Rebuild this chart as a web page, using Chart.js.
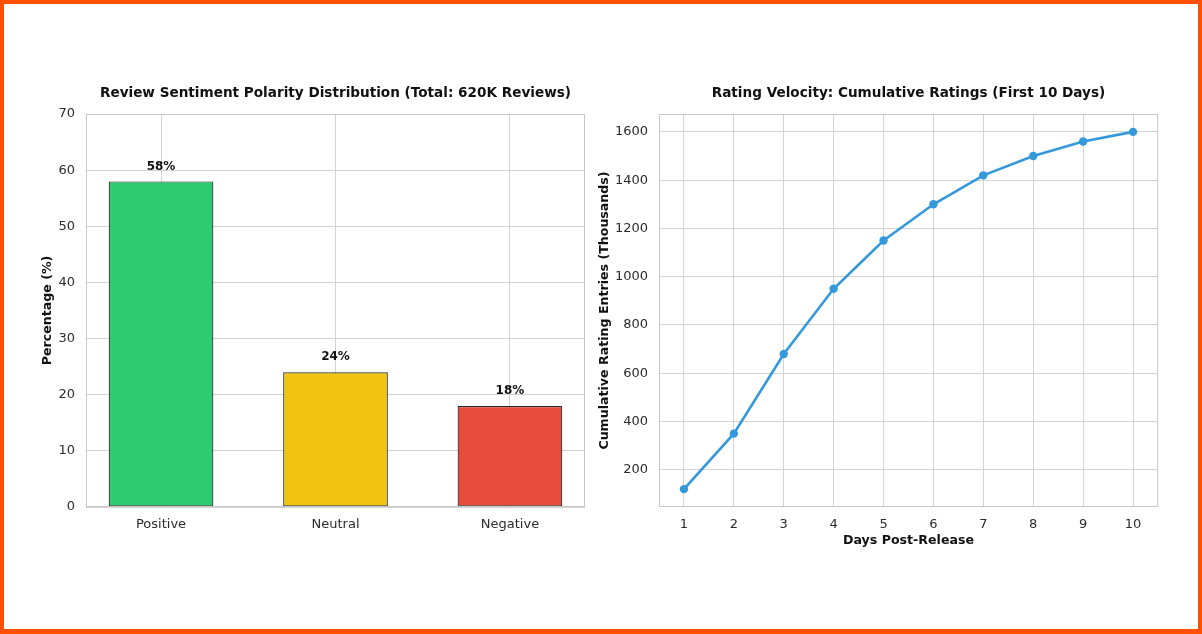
<!DOCTYPE html>
<html>
<head>
<meta charset="utf-8">
<title>Review Sentiment & Rating Velocity</title>
<script src="https://cdn.jsdelivr.net/npm/chart.js@4.4.0/dist/chart.umd.min.js"></script>
<style>
    body { margin: 0; background: #fff; }
    #frame { position: relative; width: 1202px; height: 634px; overflow: hidden; background: #fff; }
    #edge { position: absolute; left: 0; top: 0; right: 0; bottom: 0; border: 4px solid #ff4f00; border-bottom-width: 5px; pointer-events: none; }
    .box { position: absolute; top: 0; height: 634px; }
    #left { left: 0; width: 600px; }
    #right { left: 580px; width: 622px; }
</style>
</head>
<body>
<div id="frame">
    <div class="box" id="left"><canvas id="sentimentChart"></canvas></div>
    <div class="box" id="right"><canvas id="velocityChart"></canvas></div>
    <div id="edge"></div>
</div>
<script>
// sentiment data
const sentimentLabels = ['Positive', 'Neutral', 'Negative'];
const sentimentValues = [58, 24, 18];
const sentimentColors = ['#2ecc71', '#f1c40f', '#e74c3c'];
const sentimentTicks = [0, 10, 20, 30, 40, 50, 60, 70];

// rating velocity data
const days = [1, 2, 3, 4, 5, 6, 7, 8, 9, 10];
const cumulativeRatings = [120, 350, 680, 950, 1150, 1300, 1420, 1500, 1560, 1600];
const ratingTicks = [200, 400, 600, 800, 1000, 1200, 1400, 1600];

const tickFont = { family: 'DejaVu Sans', size: 13 };
const titleFont = { family: 'DejaVu Sans', size: 13.6, weight: 'bold' };
const axisTitleFont = { family: 'DejaVu Sans', size: 12.6, weight: 'bold' };
const gridColor = '#d3d3d3';

// draws the full box round the plot area, like matplotlib spines
const frameBox = {
    id: 'frameBox',
    afterDatasetsDraw(chart) {
        const { ctx, chartArea: a } = chart;
        ctx.save();
        ctx.strokeStyle = '#c8c8c8';
        ctx.lineWidth = 1;
        ctx.strokeRect(Math.round(a.left) + 0.5, Math.round(a.top) + 0.5,
            Math.round(a.right - a.left) - 1, Math.round(a.bottom - a.top) - 1);
        ctx.restore();
    }
};

// value labels above bars
const barLabels = {
    id: 'barLabels',
    afterDatasetsDraw(chart) {
        const { ctx } = chart;
        ctx.save();
        ctx.font = 'bold 12px "DejaVu Sans"';
        ctx.fillStyle = '#111';
        ctx.textAlign = 'center';
        ctx.textBaseline = 'middle';
        chart.getDatasetMeta(0).data.forEach((bar, i) => {
            ctx.fillText(sentimentValues[i] + '%', bar.x, bar.y - 15);
        });
        ctx.restore();
    }
};

try {
    new Chart(document.getElementById('sentimentChart'), {
        type: 'bar',
        data: {
            datasets: [{
                data: sentimentValues.map((v, i) => ({ x: i, y: v })),
                backgroundColor: sentimentColors,
                borderColor: 'rgba(20, 20, 20, 0.9)',
                borderWidth: 1.2,
                borderSkipped: false,
                barPercentage: 0.6,
                categoryPercentage: 1
            }]
        },
        plugins: [frameBox, barLabels],
        options: {
            responsive: true,
            maintainAspectRatio: false,
            animation: false,
            layout: { padding: { left: 30, right: 15, top: 85, bottom: 97 } },
            plugins: {
                legend: { display: false },
                tooltip: { enabled: false },
                title: {
                    display: true,
                    fullSize: false,
                    text: 'Review Sentiment Polarity Distribution (Total: 620K Reviews)',
                    font: titleFont,
                    color: '#111',
                    padding: { top: 0, bottom: 12.7 }
                }
            },
            scales: {
                x: {
                    type: 'linear',
                    offset: false,
                    min: -0.43,
                    max: 2.43,
                    afterBuildTicks: s => { s.ticks = sentimentLabels.map((l, i) => ({ value: i })); },
                    afterFit: s => { s.height = 30; },
                    grid: { color: gridColor, drawTicks: false, tickLength: 0, offset: false },
                    border: { display: false },
                    ticks: {
                        font: tickFont,
                        color: '#2b2b2b',
                        padding: 10,
                        callback: v => sentimentLabels[v]
                    }
                },
                y: {
                    min: 0,
                    max: 70,
                    afterBuildTicks: s => { s.ticks = sentimentTicks.map(v => ({ value: v })); },
                    afterFit: s => { s.width = 56; },
                    grid: { color: gridColor, drawTicks: false, tickLength: 0 },
                    border: { display: false },
                    ticks: { font: tickFont, color: '#2b2b2b', padding: 11, callback: v => String(v) },
                    title: {
                        display: true,
                        text: 'Percentage (%)',
                        font: axisTitleFont,
                        color: '#111',
                        padding: { top: 10, bottom: 0 }
                    }
                }
            }
        }
    });
} catch (e) {
    console.error('sentiment chart failed:', e);
}

try {
    new Chart(document.getElementById('velocityChart'), {
        type: 'line',
        data: {
            datasets: [{
                data: days.map((d, i) => ({ x: d, y: cumulativeRatings[i] })),
                borderColor: '#3498db',
                backgroundColor: '#3498db',
                borderWidth: 2.6,
                pointRadius: 4.2,
                pointBorderWidth: 0,
                tension: 0,
                fill: false
            }]
        },
        plugins: [frameBox],
        options: {
            responsive: true,
            maintainAspectRatio: false,
            animation: false,
            layout: { padding: { left: 10, right: 44, top: 85, bottom: 86 } },
            plugins: {
                legend: { display: false },
                tooltip: { enabled: false },
                title: {
                    display: true,
                    fullSize: false,
                    text: 'Rating Velocity: Cumulative Ratings (First 10 Days)',
                    font: titleFont,
                    color: '#111',
                    padding: { top: 0, bottom: 12.7 }
                }
            },
            scales: {
                x: {
                    type: 'linear',
                    min: 0.5,
                    max: 10.5,
                    afterBuildTicks: s => { s.ticks = days.map(v => ({ value: v })); },
                    afterFit: s => { s.height = 41; },
                    grid: { color: gridColor, drawTicks: false, tickLength: 0 },
                    border: { display: false },
                    ticks: { font: tickFont, color: '#2b2b2b', padding: 10, callback: v => String(v) },
                    title: {
                        display: true,
                        text: 'Days Post-Release',
                        font: axisTitleFont,
                        color: '#111',
                        padding: { top: 0, bottom: 0 }
                    }
                },
                y: {
                    type: 'linear',
                    min: 46,
                    max: 1674,
                    afterBuildTicks: s => { s.ticks = ratingTicks.map(v => ({ value: v })); },
                    afterFit: s => { s.width = 69; },
                    grid: { color: gridColor, drawTicks: false, tickLength: 0 },
                    border: { display: false },
                    ticks: { font: tickFont, color: '#2b2b2b', padding: 11, callback: v => String(v) },
                    title: {
                        display: true,
                        text: 'Cumulative Rating Entries (Thousands)',
                        font: axisTitleFont,
                        color: '#111',
                        padding: { top: 7.5, bottom: 0 }
                    }
                }
            }
        }
    });
} catch (e) {
    console.error('velocity chart failed:', e);
}
</script>
</body>
</html>
